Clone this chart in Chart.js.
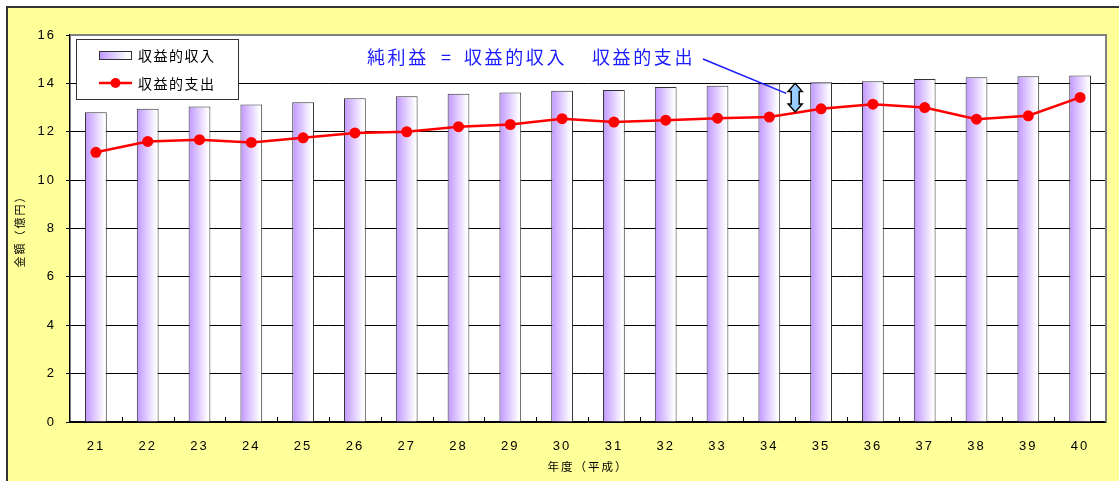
<!DOCTYPE html>
<html lang="ja">
<head>
<meta charset="utf-8">
<title>収益的収入と収益的支出の推移</title>
<script src="https://cdn.jsdelivr.net/npm/chart.js@4.4.1/dist/chart.umd.min.js"></script>
<style>
  html, body { margin: 0; padding: 0; background: #ffffff; }
  #wrap { width: 1119px; height: 481px; }
  canvas { display: block; }
</style>
</head>
<body>
<div id="wrap"><canvas id="chart" width="1119" height="481"></canvas></div>
<script>
// 年度（平成）
const categories = ['21', '22', '23', '24', '25', '26', '27', '28', '29', '30',
                    '31', '32', '33', '34', '35', '36', '37', '38', '39', '40'];

// 収益的収入（億円）
const incomeValues = [12.81, 12.95, 13.04, 13.13, 13.22, 13.39, 13.47, 13.57, 13.62, 13.70,
                      13.73, 13.85, 13.90, 13.99, 14.05, 14.09, 14.18, 14.25, 14.29, 14.33];

// 収益的支出（億円）
const expenseValues = [11.15, 11.60, 11.67, 11.56, 11.75, 11.95, 12.00, 12.21, 12.30, 12.54,
                       12.40, 12.48, 12.56, 12.61, 12.95, 13.14, 13.00, 12.52, 12.66, 13.42];

// 縦軸目盛
const yTickValues = [0, 2, 4, 6, 8, 10, 12, 14, 16];

// 系列名・注記
const incomeLabel = '収益的収入';
const expenseLabel = '収益的支出';
const noteParts = ['純利益', '=', '収益的収入', '収益的支出'];

const PURPLE = '#C096FF';
const RED = '#FF0000';
const BAR_RATIO = 0.42;
const CJK = '"Noto Sans CJK JP", "Noto Sans CJK SC", sans-serif';
const LATIN = '"Liberation Sans", Arial, sans-serif';

function barGradient(ctx, x0, x1) {
  const g = ctx.createLinearGradient(x0, 0, x1, 0);
  g.addColorStop(0, PURPLE);
  g.addColorStop(0.9, '#FFFFFF');
  g.addColorStop(1, '#FFFFFF');
  return g;
}

// 背景・枠・凡例・注記を描くプラグイン
const decor = {
  id: 'decor',
  beforeLayout(chart) { chart.ctx.letterSpacing = '2px'; },
  beforeDraw(chart) {
    const { ctx, chartArea: a, width, height } = chart;
    ctx.save();
    ctx.letterSpacing = '0px';
    ctx.fillStyle = '#FFFFFF';
    ctx.fillRect(0, 0, width, height);
    ctx.fillStyle = '#FFFF99';
    ctx.fillRect(6, 6, width - 6, height - 6);
    ctx.strokeStyle = '#333333';
    ctx.lineWidth = 2;
    ctx.beginPath();
    ctx.moveTo(7, height);
    ctx.lineTo(7, 7);
    ctx.lineTo(width, 7);
    ctx.stroke();
    ctx.fillStyle = '#FFFFFF';
    ctx.fillRect(a.left, a.top, a.right - a.left, a.bottom - a.top);
    ctx.restore();
    ctx.letterSpacing = '2px';
  },
  afterDatasetsDraw(chart) {
    const { ctx, chartArea: a, scales } = chart;
    const xs = scales.x, ys = scales.y;
    ctx.save();
    ctx.letterSpacing = '0px';

    // 上・右の枠線
    ctx.strokeStyle = '#808080';
    ctx.lineWidth = 2;
    ctx.beginPath();
    ctx.moveTo(a.left, a.top);
    ctx.lineTo(a.right, a.top);
    ctx.lineTo(a.right, a.bottom);
    ctx.stroke();

    // 横軸の内向き目盛（区切り位置）
    const step = (a.right - a.left) / categories.length;
    ctx.strokeStyle = '#000000';
    ctx.lineWidth = 1;
    ctx.beginPath();
    for (let i = 1; i < categories.length; i++) {
      const x = Math.round(a.left + step * i) + 0.5;
      ctx.moveTo(x, a.bottom);
      ctx.lineTo(x, a.bottom - 5);
    }
    ctx.stroke();

    // 凡例
    const lx = 76, ly = 39, lw = 162, lh = 60;
    ctx.fillStyle = '#FFFFFF';
    ctx.fillRect(lx, ly, lw, lh);
    ctx.strokeStyle = '#333333';
    ctx.lineWidth = 1;
    ctx.strokeRect(lx + 0.5, ly + 0.5, lw, lh);

    ctx.fillStyle = barGradient(ctx, 99, 131);
    ctx.fillRect(99, 51, 32, 8);
    ctx.strokeStyle = '#333333';
    ctx.strokeRect(99.5, 51.5, 32, 8);

    ctx.strokeStyle = RED;
    ctx.lineWidth = 2.5;
    ctx.beginPath();
    ctx.moveTo(99, 83);
    ctx.lineTo(132, 83);
    ctx.stroke();
    ctx.fillStyle = RED;
    ctx.beginPath();
    ctx.arc(115.5, 83, 5, 0, Math.PI * 2);
    ctx.fill();

    ctx.fillStyle = '#000000';
    ctx.font = '14px ' + CJK;
    ctx.letterSpacing = '1.5px';
    ctx.textBaseline = 'middle';
    ctx.textAlign = 'left';
    ctx.fillText(incomeLabel, 138, 56);
    ctx.fillText(expenseLabel, 138, 84);

    // 注記
    ctx.fillStyle = '#1A1AFF';
    ctx.font = '18px ' + CJK;
    ctx.letterSpacing = '2.6px';
    ctx.fillText(noteParts[0], 367, 57);
    ctx.letterSpacing = '0px';
    ctx.fillText(noteParts[1], 441, 57);
    ctx.letterSpacing = '2.6px';
    ctx.fillText(noteParts[2], 464, 57);
    ctx.fillText(noteParts[3], 592, 57);

    // 純利益を示す両矢印
    const ax = xs.getPixelForValue(13.5);
    const yTop = ys.getPixelForValue(14.0);
    const yBot = ys.getPixelForValue(12.82);

    ctx.strokeStyle = '#1A1AFF';
    ctx.lineWidth = 1.5;
    ctx.beginPath();
    ctx.moveTo(703, 59);
    ctx.lineTo(ax - 9, yTop + 10);
    ctx.stroke();

    const hw = 7, sw = 4, hh = 8;
    ctx.beginPath();
    ctx.moveTo(ax, yTop);
    ctx.lineTo(ax + hw, yTop + hh);
    ctx.lineTo(ax + sw, yTop + hh);
    ctx.lineTo(ax + sw, yBot - hh);
    ctx.lineTo(ax + hw, yBot - hh);
    ctx.lineTo(ax, yBot);
    ctx.lineTo(ax - hw, yBot - hh);
    ctx.lineTo(ax - sw, yBot - hh);
    ctx.lineTo(ax - sw, yTop + hh);
    ctx.lineTo(ax - hw, yTop + hh);
    ctx.closePath();
    ctx.fillStyle = '#99CCFF';
    ctx.fill();
    ctx.strokeStyle = '#000000';
    ctx.lineWidth = 1.5;
    ctx.lineJoin = 'miter';
    ctx.stroke();

    ctx.restore();
    ctx.letterSpacing = '2px';
  }
};

new Chart(document.getElementById('chart'), {
  data: {
    labels: categories,
    datasets: [
      {
        type: 'line',
        label: expenseLabel,
        data: expenseValues,
        order: 1,
        borderColor: RED,
        borderWidth: 2.5,
        backgroundColor: RED,
        pointBackgroundColor: RED,
        pointBorderColor: RED,
        pointRadius: 5.5,
        pointBorderWidth: 0,
        tension: 0
      },
      {
        type: 'bar',
        label: incomeLabel,
        data: incomeValues,
        order: 2,
        categoryPercentage: 1,
        barPercentage: BAR_RATIO,
        borderColor: '#333333',
        borderWidth: 1,
        backgroundColor: (c) => {
          const chart = c.chart;
          if (c.type !== 'data' || !chart.chartArea || !chart.scales.x) return PURPLE;
          const xs = chart.scales.x;
          const cx = xs.getPixelForValue(c.dataIndex);
          const w = (xs.right - xs.left) / categories.length * BAR_RATIO;
          return barGradient(chart.ctx, cx - w / 2, cx + w / 2);
        }
      }
    ]
  },
  options: {
    responsive: false,
    devicePixelRatio: 1,
    animation: false,
    events: [],
    layout: { padding: { left: 0, right: 13, top: 35, bottom: 0 } },
    plugins: {
      legend: { display: false },
      tooltip: { enabled: false }
    },
    scales: {
      x: {
        type: 'category',
        offset: true,
        afterFit: (s) => { s.height = 59; },
        grid: { display: false },
        border: { display: true, color: '#000000', width: 1.5 },
        ticks: {
          color: '#000000',
          font: { family: LATIN, size: 13 },
          padding: 9,
          maxRotation: 0,
          autoSkip: false
        },
        title: {
          display: true,
          text: '年度（平成）',
          color: '#000000',
          font: { family: CJK, size: 11.5 },
          padding: { top: 0, bottom: 7 }
        }
      },
      y: {
        type: 'linear',
        min: 0,
        max: 16,
        afterFit: (s) => { s.width = 70; },
        afterBuildTicks: (s) => { s.ticks = yTickValues.map(v => ({ value: v })); },
        grid: {
          color: '#000000',
          lineWidth: 1,
          drawTicks: true,
          tickLength: 4,
          tickColor: '#000000'
        },
        border: { display: true, color: '#000000', width: 1.5 },
        ticks: {
          color: '#000000',
          font: { family: LATIN, size: 13 },
          padding: 10
        },
        title: {
          display: true,
          text: '金額（億円）',
          color: '#000000',
          font: { family: CJK, size: 11 },
          padding: { top: 13, bottom: 0 }
        }
      }
    }
  },
  plugins: [decor]
});
</script>
</body>
</html>
